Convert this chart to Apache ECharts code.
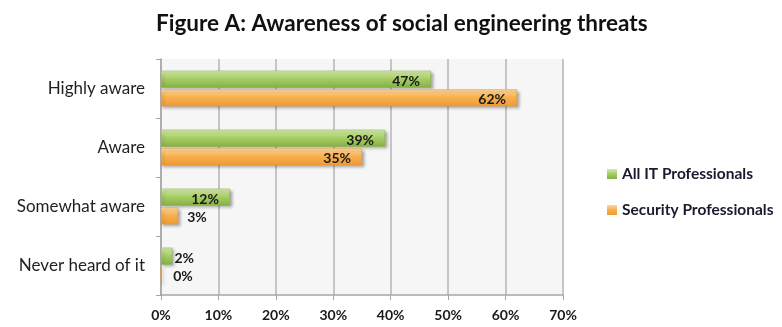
<!DOCTYPE html>
<html><head><meta charset="utf-8">
<script src="https://cdn.jsdelivr.net/npm/echarts@6/dist/echarts.min.js"></script>
<style>html,body{margin:0;padding:0;background:#fff}#c{width:782px;height:327px}</style>
</head><body><div id="c"></div>
<script>
var categories = ["Highly aware", "Aware", "Somewhat aware", "Never heard of it"];
var allIT = [47, 39, 12, 2];
var security = [62, 35, 3, 0];
var seriesNames = ["All IT Professionals", "Security Professionals"];
var titleText = "Figure A: Awareness of social engineering threats";

var FONT = "Lato, 'Open Sans', sans-serif";
function grad(c1, c2, c3) {
  return new echarts.graphic.LinearGradient(0, 0, 0, 1, [
    {offset: 0, color: c1}, {offset: 0.45, color: c2}, {offset: 1, color: c3}
  ]);
}
function mkData(arr) {
  return arr.map(function (v) {
    if (v < 5) {
      return {value: v, label: {position: 'right', distance: v === 0 ? 12 : (v < 3 ? 2 : 9)}};
    }
    return {value: v};
  });
}
var labelBase = {
  show: true, position: 'insideRight', distance: 11, offset: [0, 2],
  formatter: '{c}%', color: '#1a1a1a', fontFamily: FONT, fontWeight: 'bold', fontSize: 14
};
var chart = echarts.init(document.getElementById('c'));
chart.setOption({
  animation: false,
  backgroundColor: '#ffffff',
  title: {
    text: titleText, left: 151, top: 7,
    textStyle: {fontFamily: FONT, fontWeight: 'bold', fontSize: 22.5, color: '#111'}
  },
  legend: {
    orient: 'vertical', left: 602, top: 161, itemGap: 20,
    itemWidth: 10, itemHeight: 10, icon: 'rect', itemStyle: {borderWidth: 0},
    textStyle: {fontFamily: FONT, fontSize: 15.5, fontWeight: 'bold', color: '#1a1a2e'},
    data: seriesNames
  },
  grid: {
    left: 161, right: 219, top: 59, bottom: 32, show: true,
    backgroundColor: '#f6f6f6', borderWidth: 0
  },
  xAxis: {
    type: 'value', min: 0, max: 70, interval: 10,
    axisLabel: {formatter: '{value}%', fontFamily: FONT, fontWeight: 'bold', fontSize: 14, color: '#1a1a1a', margin: 13},
    axisLine: {show: true, lineStyle: {color: '#a6a6a6', width: 1.5}},
    axisTick: {show: true, length: 5, lineStyle: {color: '#a6a6a6'}},
    splitLine: {show: true, lineStyle: {color: '#b5b5b5', width: 1.5}}
  },
  yAxis: {
    type: 'category', data: categories, inverse: true,
    axisLabel: {fontFamily: FONT, fontSize: 17, color: '#1f1f1f', margin: 16},
    axisLine: {show: true, lineStyle: {color: '#a6a6a6', width: 1.5}},
    axisTick: {show: true, length: 5, lineStyle: {color: '#a6a6a6'}}
  },
  series: [
    {
      name: seriesNames[0], type: 'bar', data: mkData(allIT),
      barWidth: 17, barGap: '10%',
      itemStyle: {color: grad('#d6ebb0', '#a8cf66', '#86b043'), borderColor: '#8fb54e', borderWidth: 0.5,
        shadowColor: 'rgba(0,0,0,0.35)', shadowBlur: 3, shadowOffsetX: 2, shadowOffsetY: 2},
      label: labelBase
    },
    {
      name: seriesNames[1], type: 'bar', data: mkData(security),
      barWidth: 17,
      itemStyle: {color: grad('#fdd9a0', '#f9b04f', '#ee9a35'), borderColor: '#e89a3c', borderWidth: 0.5,
        shadowColor: 'rgba(0,0,0,0.35)', shadowBlur: 3, shadowOffsetX: 2, shadowOffsetY: 2},
      label: labelBase
    }
  ]
});
</script></body></html>
